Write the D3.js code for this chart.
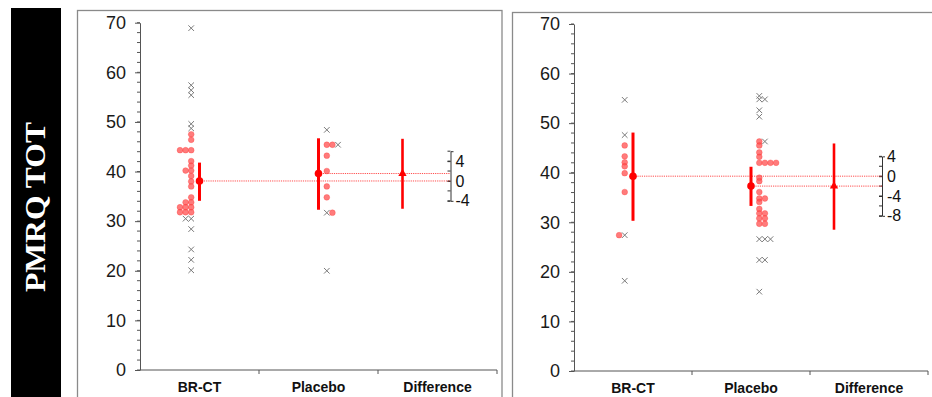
<!DOCTYPE html>
<html>
<head>
<meta charset="utf-8">
<script src="https://cdn.jsdelivr.net/npm/d3@7"></script>
<style>
  body { margin: 0; background: #fff; }
  svg { display: block; font-family: "Liberation Sans", Arial, sans-serif; }
</style>
</head>
<body>
<svg id="chart" width="932" height="397"></svg>
<script>
const groups = ["BR-CT", "Placebo", "Difference"];
const yTicks = [0, 10, 20, 30, 40, 50, 60, 70];
const rowLabel = "PMRQ TOT";

// individual values: [value, kind]  "o" = dot, "x" = cross
const leftBrct = [
  [68.9, "x"], [57.4, "x"], [56.4, "x"], [55.4, "x"], [49.6, "x"], [48.7, "x"],
  [47.5, "o"], [46.4, "o"], [44.3, "o"], [44.3, "o"], [44.3, "o"],
  [42.1, "o"], [41.2, "o"], [40.2, "o"], [40.2, "o"], [39.1, "o"], [38.0, "o"], [37.0, "o"],
  [34.8, "o"], [33.8, "o"], [33.8, "o"], [32.8, "o"], [32.8, "o"], [32.8, "o"],
  [31.8, "o"], [31.8, "o"], [31.8, "o"],
  [30.5, "x"], [30.5, "x"], [28.4, "x"], [24.3, "x"], [22.2, "x"], [20.1, "x"]
];
const leftPlacebo = [
  [48.4, "x"], [45.4, "o"], [45.4, "o"], [45.4, "x"], [43.2, "o"], [40.1, "o"],
  [37.0, "o"], [34.8, "o"], [31.7, "x"], [31.7, "o"], [20.0, "x"]
];
const rightBrct = [
  [54.7, "x"], [47.6, "x"], [45.5, "o"], [43.3, "o"], [42.1, "o"], [41.3, "o"],
  [39.9, "o"], [36.1, "o"], [27.4, "x"], [27.4, "o"], [18.2, "x"]
];
const rightPlacebo = [
  [55.5, "x"], [54.8, "x"], [54.8, "x"], [52.6, "x"], [51.3, "x"],
  [46.3, "o"], [46.3, "x"], [45.5, "o"], [44.1, "o"], [43.2, "o"],
  [42.0, "o"], [42.0, "o"], [42.0, "o"], [42.0, "o"],
  [39.0, "o"], [38.3, "o"], [36.1, "o"], [34.8, "o"], [34.8, "o"], [34.1, "o"],
  [32.7, "o"], [31.8, "o"], [31.8, "o"], [30.8, "o"], [30.8, "o"], [29.7, "o"], [29.7, "o"],
  [26.6, "x"], [26.6, "x"], [26.6, "x"], [22.4, "x"], [22.4, "x"], [16.0, "x"]
];

// group mean with 95% CI
const leftStats = [ { mean: 38.1, lo: 34.1, hi: 41.8 }, { mean: 39.6, lo: 32.3, hi: 46.7 } ];
const rightStats = [ { mean: 39.3, lo: 30.3, hi: 48.1 }, { mean: 37.3, lo: 33.3, hi: 41.2 } ];

// difference (placebo - BR-CT) on the secondary axis
const leftDiff = { d: 1.5, lo: -5.6, hi: 8.5 };
const rightDiff = { d: -2.0, lo: -10.8, hi: 6.6 };
const leftDiffDomain = [-4, 6];
const rightDiffDomain = [-8, 4];
const leftDiffTicks = [-4, 0, 4];
const rightDiffTicks = [-8, -4, 0, 4];

const svg = d3.select("#chart");

// row label box
svg.append("rect")
  .attr("x", 11).attr("y", 8).attr("width", 50).attr("height", 400)
  .attr("fill", "#000");
svg.append("text")
  .attr("transform", "translate(45,207) rotate(-90)")
  .attr("text-anchor", "middle")
  .attr("font-family", "'Liberation Serif', 'Times New Roman', serif")
  .attr("font-weight", "bold")
  .attr("font-size", 29)
  .attr("textLength", 170)
  .attr("lengthAdjust", "spacingAndGlyphs")
  .attr("fill", "#fff")
  .text(rowLabel);

function drawPanel(p) {
  const g = svg.append("g");

  g.append("rect")
    .attr("x", p.frame[0]).attr("y", p.frame[1])
    .attr("width", p.frame[2]).attr("height", 420)
    .attr("fill", "none").attr("stroke", "#8a8a8a").attr("stroke-width", 1.3);

  const y = d3.scaleLinear().domain([0, 70]).range(p.yr);
  const x = d3.scaleBand().domain(groups).range(p.xr);
  const bw = x.bandwidth();
  const cx = c => x(c) + bw / 2;

  // y axis
  const ya = g.append("g")
    .attr("transform", `translate(${p.xr[0]},0)`)
    .call(d3.axisLeft(y).tickValues(yTicks).tickSize(5).tickSizeOuter(0).tickPadding(9));
  ya.select(".domain").attr("stroke", "#555");
  ya.selectAll(".tick line").attr("stroke", "#555");
  ya.selectAll(".tick text")
    .attr("font-size", 18).attr("fill", "#1a1a1a")
    .attr("font-family", "'Liberation Sans', Arial, sans-serif");
  ya.selectAll(".minor")
    .data(d3.range(0, 71, 2))
    .join("line")
    .attr("class", "minor")
    .attr("x1", -3).attr("x2", 0)
    .attr("y1", d => y(d)).attr("y2", d => y(d))
    .attr("stroke", "#555");

  // x axis
  g.append("line")
    .attr("x1", p.xr[0]).attr("x2", p.xr[1])
    .attr("y1", y(0)).attr("y2", y(0))
    .attr("stroke", "#555");
  g.selectAll(".xtick")
    .data(groups)
    .join("line")
    .attr("x1", d => x(d) + bw).attr("x2", d => x(d) + bw)
    .attr("y1", y(0)).attr("y2", y(0) + 4)
    .attr("stroke", "#555");
  g.selectAll(".xlab")
    .data(groups)
    .join("text")
    .attr("x", d => cx(d))
    .attr("y", y(0) + 22)
    .attr("text-anchor", "middle")
    .attr("font-size", 14)
    .attr("font-weight", "bold")
    .attr("fill", "#111")
    .text(d => d);

  // secondary difference axis
  const base = p.stats[0].mean;
  const axX = cx("Difference") + 13;
  const dy = d3.scaleLinear().domain(p.diffDomain)
    .range([y(base + p.diffDomain[0]), y(base + p.diffDomain[1])]);
  const da = g.append("g")
    .attr("transform", `translate(${axX},0)`)
    .call(d3.axisRight(dy).tickValues(p.diffTicks).tickFormat(d => String(d))
      .tickSizeInner(-3).tickSizeOuter(3).tickPadding(5));
  da.select(".domain").attr("stroke", "#333");
  da.selectAll(".tick line").attr("stroke", "#333");
  da.selectAll(".tick text").attr("font-size", 16).attr("fill", "#111")
    .attr("font-family", "'Liberation Sans', Arial, sans-serif");
  da.selectAll(".minor")
    .data(d3.range(p.diffDomain[0], p.diffDomain[1] + 1, 2))
    .join("line")
    .attr("class", "minor")
    .attr("x1", -3).attr("x2", 0)
    .attr("y1", d => dy(d)).attr("y2", d => dy(d))
    .attr("stroke", "#333");

  // dotted reference lines from each group mean to the secondary axis
  const meanX = [cx("BR-CT"), cx("Placebo")];
  g.selectAll(".ref")
    .data(p.stats)
    .join("line")
    .attr("x1", (d, i) => meanX[i]).attr("x2", axX)
    .attr("y1", d => y(d.mean)).attr("y2", d => y(d.mean))
    .attr("stroke", "#ff3030").attr("stroke-width", 1)
    .attr("stroke-dasharray", "1.2,1").attr("opacity", 0.85);

  // individual points, stacked sideways when values coincide
  function stack(list, c, dir) {
    const count = {};
    return list.map(([v, t]) => {
      const k = v.toFixed(1);
      const i = count[k] || 0;
      count[k] = i + 1;
      return { v, t, x: c + dir * (8.3 + i * 5.6) };
    });
  }
  const pts = stack(p.brct, cx("BR-CT"), -1).concat(stack(p.placebo, cx("Placebo"), 1));

  g.selectAll(".dot")
    .data(pts.filter(d => d.t === "o"))
    .join("circle")
    .attr("cx", d => d.x).attr("cy", d => y(d.v))
    .attr("r", 2.9)
    .attr("fill", "#ff4848").attr("fill-opacity", 0.72)
    .attr("stroke", "#ff3030").attr("stroke-opacity", 0.5).attr("stroke-width", 0.6);

  const s = 2.8;
  g.selectAll(".cross")
    .data(pts.filter(d => d.t === "x"))
    .join("path")
    .attr("d", d => {
      const px = d.x, py = y(d.v);
      return `M${px - s},${py - s}L${px + s},${py + s}M${px - s},${py + s}L${px + s},${py - s}`;
    })
    .attr("stroke", "#7a7a7a").attr("stroke-width", 1).attr("fill", "none");

  // group means with CI
  g.selectAll(".ci")
    .data(p.stats)
    .join("line")
    .attr("x1", (d, i) => meanX[i]).attr("x2", (d, i) => meanX[i])
    .attr("y1", d => y(d.lo)).attr("y2", d => y(d.hi))
    .attr("stroke", "#ff0000").attr("stroke-width", 3);
  g.selectAll(".mean")
    .data(p.stats)
    .join("circle")
    .attr("cx", (d, i) => meanX[i]).attr("cy", d => y(d.mean))
    .attr("r", 3.8).attr("fill", "#ff0000");

  // difference with CI
  const dX = cx("Difference") - 35;
  g.append("line")
    .attr("x1", dX).attr("x2", dX)
    .attr("y1", dy(p.diff.lo)).attr("y2", dy(p.diff.hi))
    .attr("stroke", "#ff0000").attr("stroke-width", 2.6);
  g.append("path")
    .attr("d", d3.symbol(d3.symbolTriangle, 30)())
    .attr("transform", `translate(${dX},${dy(p.diff.d)})`)
    .attr("fill", "#ff0000");
}

drawPanel({
  frame: [77.5, 10.5, 424.5], xr: [140, 497], yr: [370, 22.7],
  brct: leftBrct, placebo: leftPlacebo, stats: leftStats,
  diff: leftDiff, diffDomain: leftDiffDomain, diffTicks: leftDiffTicks
});
drawPanel({
  frame: [512.5, 12.5, 430], xr: [574, 928], yr: [371, 24],
  brct: rightBrct, placebo: rightPlacebo, stats: rightStats,
  diff: rightDiff, diffDomain: rightDiffDomain, diffTicks: rightDiffTicks
});
</script>
</body>
</html>
